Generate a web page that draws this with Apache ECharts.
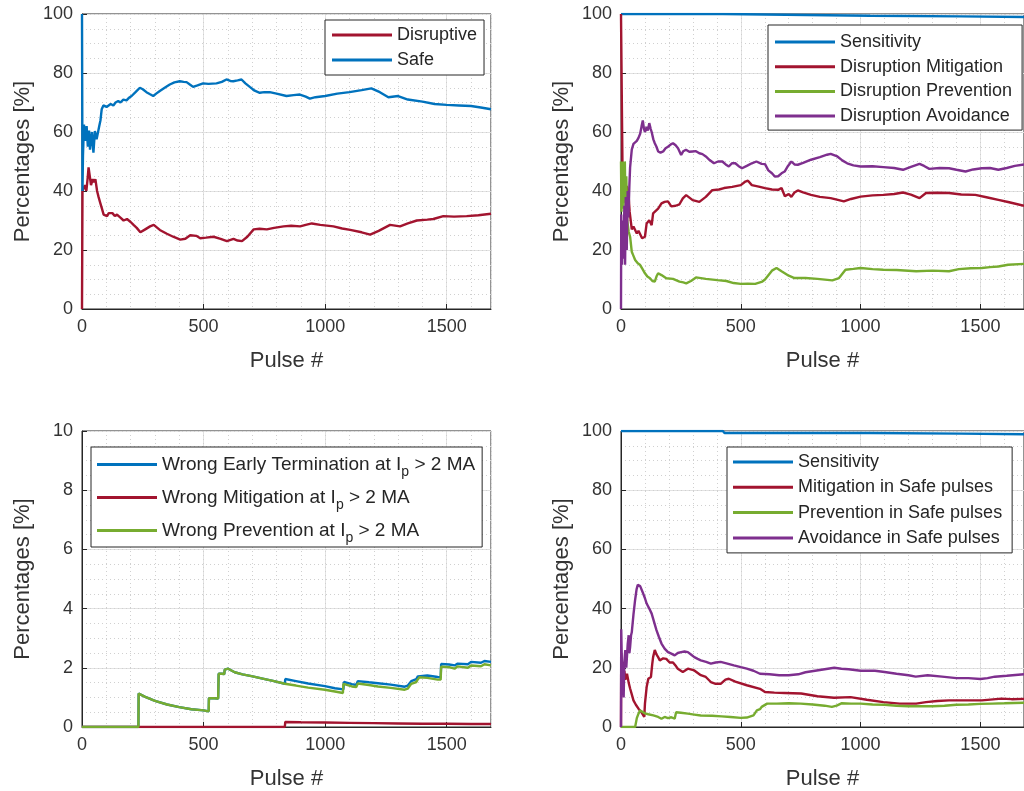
<!DOCTYPE html>
<html>
<head>
<meta charset="utf-8">
<script src="https://cdn.jsdelivr.net/npm/echarts@6/dist/echarts.min.js"></script>
<style>
  html, body { margin: 0; padding: 0; background: #fff; }
  #chart { width: 1024px; height: 791px; }
</style>
</head>
<body>
<div id="chart"></div>
<script>
// 各子图的数据 [脉冲号, 百分比]
const safe = [[0,100],[1,100],[2,40],[4,52],[8,62.5],[14,57],[19,62],[24,55],[29,60.5],[33,54],[38,58],[41,60],[47,53],[53,60.3],[60,57.5],[66,58],[71,62],[76,64],[81,67.7],[88,69],[94,69.3],[101,68.5],[108,68.2],[118,69.5],[129,69],[138,70],[149,70.5],[158,70],[170,71],[183,70.7],[192,71.5],[204,72.2],[220,73.5],[238,75],[250,74.5],[265,73.5],[280,72.8],[293,72.2],[305,73],[320,73.9],[340,75],[361,76.1],[380,76.8],[402,77.2],[418,77],[430,76.9],[445,76],[457,75.3],[475,75.8],[498,76.5],[520,76.3],[553,76.5],[575,77],[594,77.8],[610,77.3],[622,77.2],[640,77.5],[656,77.8],[672,76.5],[690,75.3],[710,74],[731,73.3],[750,73.5],[772,73.5],[800,73],[841,72.2],[870,72.5],[896,72.7],[920,72],[937,71.3],[960,71.8],[1000,72.2],[1050,73],[1100,73.5],[1150,74.2],[1190,74.8],[1225,73.5],[1260,71.8],[1300,72.2],[1340,71],[1400,70.3],[1450,69.5],[1500,69.2],[1550,69],[1600,68.8],[1640,68.3],[1682,67.7]];
const disruptive = [[0,0],[1,0],[2,40],[7,40],[12,42],[18,40],[24,45],[27,48],[32,45],[37,42],[44,44],[50,43],[55,44],[62,40],[68,38],[75,36],[82,34],[89,32],[96,31.5],[103,31.5],[110,32.5],[116,33],[125,32.5],[135,31.5],[144,32],[158,31],[171,30],[185,30.5],[200,29.5],[212,28.5],[225,27.5],[240,26],[260,27],[280,28],[295,28.5],[320,26.8],[349,25.5],[375,24.5],[404,23.5],[425,23.8],[445,25],[470,24.8],[486,24],[510,24.2],[541,24.5],[570,23.8],[596,23],[623,23.8],[640,23.2],[658,23],[680,24.5],[706,27],[730,27.2],[760,27],[790,27.5],[829,28],[860,28.2],[897,28],[920,28.5],[945,29],[980,28.5],[1034,28],[1070,27.3],[1103,26.8],[1150,26],[1185,25.2],[1220,26.5],[1267,28.5],[1308,28],[1340,29],[1377,30],[1420,30.3],[1445,30.5],[1486,31.5],[1530,31.3],[1582,31.5],[1630,31.8],[1682,32.3]];

const sensTR = [[0,100],[425,100],[432,99.4],[1040,99.4],[1045,99.2],[1420,99.2],[1425,99],[1682,99]];
const mitigTR = [[0,100],[2,100],[4,66],[6,50],[10,45],[16,42],[25,41.4],[32,38],[36,33],[45,27],[52,28],[58,27.5],[66,25.6],[73,26.5],[80,26],[88,24],[93,23.4],[100,24.5],[107,29],[118,30.1],[128,28.4],[134,32.4],[141,32.5],[155,34],[169,35.8],[182,36.3],[196,36.5],[210,34.8],[228,35],[244,35.5],[258,37.5],[272,38.6],[299,36.9],[327,36.3],[354,38],[381,40.3],[409,40.5],[430,41],[464,41.4],[500,42],[519,43.2],[530,43.5],[546,42],[575,41.5],[601,41],[630,40.5],[656,40.4],[670,41],[684,38.2],[700,39],[711,38],[724,39.5],[738,40.2],[760,39.5],[793,38.7],[830,38],[875,37.6],[905,37],[930,36.5],[960,37.3],[1000,38.1],[1050,38.5],[1095,38.7],[1140,39],[1177,39.5],[1210,38.8],[1246,37.6],[1273,39.3],[1320,39.4],[1369,39.3],[1420,38.8],[1479,38.7],[1530,37.8],[1575,37],[1620,36.2],[1682,35]];
const prevTR = [[0,50],[2,33],[4,50],[7,34],[10,50],[13,36],[16,50],[19,33],[22,45],[26,30],[32,26.2],[38,24.5],[45,19.4],[52,18],[59,16.6],[70,15.5],[80,14.9],[90,13.5],[100,12.1],[110,11],[121,10.4],[131,9.5],[141,9.3],[148,11],[155,12.1],[162,11.8],[169,11.5],[189,10.4],[217,10.2],[244,9.3],[260,9],[272,8.7],[292,9.5],[313,10.7],[354,10.2],[402,9.8],[440,9.5],[470,8.8],[500,8.5],[530,8.6],[560,8.5],[590,9.3],[601,10],[608,10.5],[630,13],[649,13.9],[670,12.8],[700,11.3],[724,10.5],[770,10.5],[820,10.2],[882,9.7],[910,10.5],[937,13.3],[970,13.6],[1000,13.9],[1050,13.5],[1095,13.3],[1150,13.2],[1232,12.8],[1300,13],[1369,12.8],[1410,13.5],[1460,13.8],[1506,13.9],[1540,14.2],[1575,14.4],[1616,15],[1682,15.3]];
const avoidTR = [[0,0],[1,32],[4,15],[8,30],[11,17],[14,35],[17,15],[20,38],[24,20],[28,40],[31,31],[35,42],[38,48],[45,54],[52,56],[60,56.5],[66,57],[73,58],[80,59.4],[86,62],[91,63.9],[96,61],[100,60],[107,61.7],[112,60.5],[118,63],[124,61],[128,60],[135,57.5],[141,56.2],[148,55],[155,53.4],[165,53],[176,53.4],[186,54.5],[196,55],[208,55.8],[217,56.2],[228,55.5],[238,54.5],[251,52.2],[260,53.5],[271,54],[285,53.3],[299,53.4],[313,53.5],[327,52.8],[340,52.5],[354,51.7],[370,50.5],[388,49.4],[405,50],[423,50],[437,49],[450,48.3],[463,49.4],[477,49.4],[490,48.5],[505,47.7],[525,48.5],[546,49.4],[565,50],[587,49.2],[601,49.1],[615,47],[630,46],[642,44.9],[656,45],[670,46],[683,46.6],[697,48.5],[711,50],[724,49],[738,48.9],[760,49.5],[793,50.6],[830,51.5],[860,52.3],[875,52.6],[903,51.7],[925,50.3],[944,49.4],[970,48.7],[1000,48.3],[1050,48.4],[1095,48.1],[1140,47.8],[1177,47.2],[1210,48.2],[1246,49.2],[1265,48.5],[1287,47.5],[1330,47.8],[1369,47.7],[1400,47.2],[1438,46.6],[1470,47.3],[1506,47.7],[1540,47.8],[1575,47.2],[1610,47.8],[1644,48.5],[1682,49]];

const wrongTerm = [[0,0],[232,0],[233,1.13],[260,1.02],[300,0.88],[350,0.76],[400,0.67],[450,0.6],[500,0.56],[521,0.53],[522,0.97],[545,0.97],[560,0.96],[562,1.8],[575,1.8],[585,1.79],[587,1.94],[601,1.97],[628,1.85],[660,1.78],[697,1.72],[752,1.62],[790,1.55],[834,1.46],[836,1.62],[880,1.55],[930,1.47],[999,1.38],[1040,1.31],[1075,1.27],[1077,1.52],[1110,1.45],[1128,1.42],[1134,1.55],[1180,1.51],[1217,1.48],[1270,1.43],[1327,1.36],[1340,1.4],[1354,1.55],[1375,1.62],[1381,1.71],[1388,1.77],[1420,1.74],[1463,1.69],[1475,1.68],[1477,2.13],[1510,2.11],[1532,2.08],[1545,2.14],[1587,2.12],[1600,2.2],[1641,2.17],[1655,2.23],[1682,2.2]];
const wrongMitig = [[0,0],[834,0],[836,0.17],[900,0.16],[1000,0.15],[1100,0.14],[1200,0.13],[1300,0.12],[1400,0.11],[1500,0.11],[1600,0.1],[1682,0.1]];
const wrongPrev = [[0,0],[232,0],[233,1.13],[260,1.02],[300,0.88],[350,0.76],[400,0.67],[450,0.6],[500,0.56],[521,0.53],[522,0.97],[545,0.97],[560,0.96],[562,1.8],[575,1.8],[585,1.79],[587,1.94],[601,1.97],[628,1.85],[660,1.78],[697,1.72],[752,1.62],[790,1.55],[834,1.46],[880,1.4],[930,1.33],[999,1.26],[1040,1.2],[1073,1.15],[1075,1.46],[1110,1.37],[1128,1.35],[1134,1.47],[1180,1.42],[1217,1.37],[1270,1.32],[1327,1.26],[1340,1.3],[1354,1.46],[1375,1.52],[1380,1.6],[1388,1.68],[1420,1.66],[1463,1.6],[1475,1.6],[1477,2.04],[1510,2.02],[1532,1.97],[1545,2.05],[1587,2],[1600,2.08],[1641,2.05],[1655,2.12],[1682,2.08]];

const sensBR = [[0,100],[425,100],[432,99.3],[1040,99.3],[1045,99.1],[1420,99.1],[1425,98.9],[1682,98.9]];
const mitigBR = [[0,0],[1,25],[4,12],[7,22],[10,14],[14,19],[18,16],[25,18],[32,15],[38,13],[45,11],[52,9],[62,7.5],[73,6.2],[85,5],[93,4.5],[97,3.4],[100,7.9],[107,13.5],[114,16.3],[125,16.9],[130,21],[134,23.6],[141,26],[148,24.5],[155,23.6],[162,22.5],[169,22.5],[176,23.2],[182,23.6],[189,23],[196,22.5],[203,21.8],[217,21.8],[230,20.5],[237,19.7],[258,18.6],[279,19.7],[285,19.7],[306,19.1],[313,19],[333,17.5],[354,16.9],[375,15.2],[395,14.6],[416,14.6],[436,16],[450,16.3],[477,15.3],[484,15.5],[525,14.1],[532,13.5],[580,12.9],[601,11.8],[640,11.6],[683,11.5],[752,11.3],[820,10.4],[889,9.9],[958,10.1],[1026,9.2],[1095,8.4],[1163,7.9],[1232,7.9],[1273,8.4],[1320,8.8],[1369,9],[1430,9],[1506,9],[1588,9.6],[1630,9.4],[1682,9.5]];
const prevBR = [[0,0],[59,0],[66,3],[73,4.5],[80,5.6],[86,5],[100,4.6],[114,4.3],[135,3.9],[155,3.4],[169,2.8],[182,3.4],[196,3],[210,3.3],[224,2.8],[230,5],[250,4.8],[279,4.5],[306,4.2],[333,3.9],[380,3.8],[420,3.6],[457,3.4],[500,3.1],[525,3.2],[553,3.9],[567,5.6],[580,6],[587,6.8],[610,7.9],[650,7.9],[700,8],[750,7.9],[800,7.6],[850,7.2],[880,6.8],[900,7.2],[920,8],[960,7.9],[1000,7.9],[1050,7.6],[1100,7.5],[1150,7.2],[1200,7],[1250,7],[1300,7],[1350,7.2],[1400,7.5],[1450,7.6],[1500,7.8],[1550,7.9],[1600,8],[1682,8.2]];
const avoidBR = [[0,0],[1,33],[4,20],[8,15],[11,10],[14,22],[18,26],[22,20],[25,20],[28,28],[32,31],[35,25],[38,27],[42,31],[45,32],[52,38],[59,43],[65,46.5],[70,48],[75,48.5],[80,47.6],[86,47],[93,45],[100,43.5],[107,41.7],[118,40],[128,38.3],[138,35.5],[148,32.7],[158,30.5],[169,28.2],[182,26.5],[196,25.3],[210,24.8],[224,24.2],[237,25],[251,25.3],[265,25.5],[279,25.3],[292,24.5],[306,23.6],[320,23],[333,22.5],[355,22],[375,21.4],[395,21.8],[416,22],[440,21.5],[471,20.8],[500,20.2],[525,19.7],[553,19],[580,18],[620,17.8],[660,17.5],[700,17.5],[740,17.8],[770,18.5],[810,19],[850,19.5],[890,20],[920,19.7],[950,19.5],[1000,19],[1060,19],[1100,18.6],[1150,18],[1200,17.5],[1230,17],[1280,17.5],[1340,17],[1400,16.5],[1450,16.5],[1500,16.2],[1530,16.5],[1560,17],[1610,17.3],[1682,17.8]];

const BLUE = '#0072BD', RED = '#A2142F', GREEN = '#77AC30', PURPLE = '#7E2F8E';
const TEXT = '#333';
const X_MAX = 1682;

const chart = echarts.init(document.getElementById('chart'));

const grids = [
    { left: 82, top: 14, width: 409, height: 295 },
    { left: 621, top: 14, width: 408, height: 295 },
    { left: 82, top: 431, width: 409, height: 296 },
    { left: 621, top: 431, width: 408, height: 296 }
];
const yMax = [100, 100, 10, 100];

const xAxis = [];
const yAxis = [];
grids.forEach(function (g, i) {
    const ym = yMax[i];
    // 主刻度
    xAxis.push({
        gridIndex: i, type: 'value', min: 0, max: X_MAX, interval: 500,
        name: 'Pulse #', nameLocation: 'middle', nameGap: 41,
        nameTextStyle: { fontSize: 22, color: TEXT, fontFamily: 'Liberation Sans' },
        axisLine: { lineStyle: { color: '#262626' } },
        axisTick: { inside: true, length: 5, lineStyle: { color: '#262626' } },
        axisLabel: {
            fontSize: 18, color: TEXT, margin: 9, showMaxLabel: false, fontFamily: 'Liberation Sans',
            formatter: function (v) { return String(v); }
        },
        splitLine: { show: true, lineStyle: { color: '#e2e2e2' } }
    });
    // 次网格
    xAxis.push({
        gridIndex: i, type: 'value', min: 0, max: X_MAX, interval: 100, position: 'bottom',
        axisLine: { show: false }, axisTick: { show: false }, axisLabel: { show: false },
        splitLine: { show: true, lineStyle: { color: '#d0d0d0', type: [1, 3] } }
    });
    yAxis.push({
        gridIndex: i, type: 'value', min: 0, max: ym, interval: ym / 5,
        name: 'Percentages [%]', nameLocation: 'middle', nameGap: 48, nameRotate: 90,
        nameTextStyle: { fontSize: 22, color: TEXT, fontFamily: 'Liberation Sans' },
        axisLine: { show: true, lineStyle: { color: '#262626' } },
        axisTick: { show: true, inside: true, length: 5, lineStyle: { color: '#262626' } },
        axisLabel: { fontSize: 18, color: TEXT, margin: 9, fontFamily: 'Liberation Sans' },
        splitLine: { show: true, lineStyle: { color: '#e2e2e2' } }
    });
    yAxis.push({
        gridIndex: i, type: 'value', min: 0, max: ym, interval: ym / 20, position: 'left',
        axisLine: { show: false }, axisTick: { show: false }, axisLabel: { show: false },
        splitLine: { show: true, lineStyle: { color: '#d0d0d0', type: [1, 3] } }
    });
});

function line(name, data, color, gi) {
    return {
        name: name, type: 'line', data: data,
        xAxisIndex: gi * 2, yAxisIndex: gi * 2,
        showSymbol: false, symbol: 'none',
        lineStyle: { width: 2.4, color: color },
        itemStyle: { color: color },
        z: 3
    };
}

const series = [
    line('Disruptive', disruptive, RED, 0),
    line('Safe', safe, BLUE, 0),
    line('Sensitivity', sensTR, BLUE, 1),
    line('Disruption Mitigation', mitigTR, RED, 1),
    line('Disruption Prevention', prevTR, GREEN, 1),
    line('Disruption Avoidance', avoidTR, PURPLE, 1),
    line('Wrong Early Termination at I_p > 2 MA', wrongTerm, BLUE, 2),
    line('Wrong Mitigation at I_p > 2 MA', wrongMitig, RED, 2),
    line('Wrong Prevention at I_p > 2 MA', wrongPrev, GREEN, 2),
    line('Sensitivity', sensBR, BLUE, 3),
    line('Mitigation in Safe pulses', mitigBR, RED, 3),
    line('Prevention in Safe pulses', prevBR, GREEN, 3),
    line('Avoidance in Safe pulses', avoidBR, PURPLE, 3)
];

function legend(names, left, top, padding, gap, fontSize, extra) {
    return Object.assign({
        data: names, orient: 'vertical', left: left, top: top,
        padding: padding, itemGap: gap, itemWidth: 60, itemHeight: 3,
        itemTextGap: 6, icon: 'rect', selectedMode: false,
        backgroundColor: '#fff', borderColor: '#262626', borderWidth: 1,
        textStyle: { fontSize: fontSize, lineHeight: 20, color: '#262626', fontFamily: 'Liberation Sans' }
    }, extra || {});
}

const option = {
    backgroundColor: '#fff',
    animation: false,
    grid: grids.map(function (g) {
        return Object.assign({ show: true, borderColor: '#262626', borderWidth: 1, backgroundColor: '#fff' }, g);
    }),
    xAxis: xAxis,
    yAxis: yAxis,
    legend: [
        legend(['Disruptive', 'Safe'], 325, 20, [5, 7, 5, 7], 5, 18),
        legend(['Sensitivity', 'Disruption Mitigation', 'Disruption Prevention', 'Disruption Avoidance'], 768, 25, [7, 10, 4, 7], 4.7, 18),
        legend(['Wrong Early Termination at I_p > 2 MA', 'Wrong Mitigation at I_p > 2 MA', 'Wrong Prevention at I_p > 2 MA'],
            91, 447, [3, 7, 2, 6], 4, 19, {
                formatter: function (name) {
                    return name.replace('I_p', 'I{sub|p}');
                },
                textStyle: {
                    fontSize: 19, lineHeight: 22, color: '#262626', fontFamily: 'Liberation Sans',
                    rich: { sub: { fontSize: 14, lineHeight: 22, padding: [15, 0, 0, 0], color: '#262626', fontFamily: 'Liberation Sans' } }
                }
            }),
        legend(['Sensitivity', 'Mitigation in Safe pulses', 'Prevention in Safe pulses', 'Avoidance in Safe pulses'], 727, 447, [5, 10, 5, 6], 5.3, 18)
    ],
    series: series
};

chart.setOption(option);
</script>
</body>
</html>
